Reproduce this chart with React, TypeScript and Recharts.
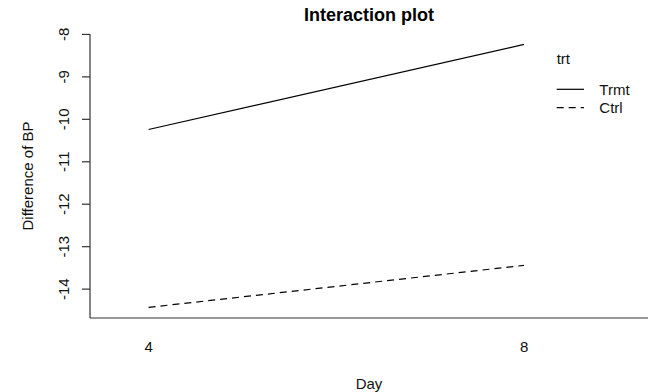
import { LineChart, Line, XAxis, YAxis, Label } from 'recharts';

const days = ['4', '8'];
const dayPos = [1, 2];
const trmt = [-10.24, -8.235];
const ctrl = [-14.43, -13.44];
const yTicks = [-14, -13, -12, -11, -10, -9, -8];
const groups = [
  { key: 'trmt', name: 'Trmt', dash: undefined as string | undefined },
  { key: 'ctrl', name: 'Ctrl', dash: '7 5' },
];

const FONT = '"Liberation Sans", Arial, Helvetica, sans-serif';
const AXIS = '#333';

const chartData = days.map((d, i) => ({ x: dayPos[i], day: d, trmt: trmt[i], ctrl: ctrl[i] }));

// y tick labels rotated like R's default (las = 0)
function YTick(props: any) {
  const { x, y, payload } = props;
  const bx = x - 11;
  return (
    <text
      x={bx}
      y={y}
      transform={`rotate(-90, ${bx}, ${y})`}
      textAnchor="middle"
      fontSize={15}
      fontFamily={FONT}
      fill="#111"
    >
      {payload.value}
    </text>
  );
}

function XTick(props: any) {
  const { x, y, payload } = props;
  const idx = dayPos.indexOf(payload.value);
  return (
    <text x={x} y={y + 26} textAnchor="middle" fontSize={15} fontFamily={FONT} fill="#111">
      {idx >= 0 ? days[idx] : ''}
    </text>
  );
}

function LegendBox() {
  return (
    <svg width={100} height={80} style={{ position: 'absolute', left: 550, top: 40 }}>
      <text x={6.7} y={24} fontSize={15} fontFamily={FONT} fill="#111">trt</text>
      {groups.map((g, i) => (
        <g key={g.key}>
          <line
            x1={6.7}
            x2={34}
            y1={49.3 + i * 18.4}
            y2={49.3 + i * 18.4}
            stroke="#000"
            strokeWidth={1.2}
            strokeDasharray={g.dash}
          />
          <text x={49.3} y={55 + i * 18.4} fontSize={15} fontFamily={FONT} fill="#111">
            {g.name}
          </text>
        </g>
      ))}
    </svg>
  );
}

export default function App() {
  return (
    <div style={{ position: 'absolute', left: 0, top: 0, width: 648, height: 392, background: '#fff', overflow: 'hidden' }}>
      <LineChart width={648} height={392} data={chartData} margin={{ top: 34, right: 0, bottom: 0, left: 0 }}>
        <XAxis
          xAxisId="top"
          orientation="top"
          dataKey="x"
          type="number"
          domain={[0.844, 2.33]}
          height={0}
          tick={false}
          tickLine={false}
          axisLine={{ stroke: AXIS, strokeWidth: 1.2 }}
        />
        <XAxis
          dataKey="x"
          type="number"
          domain={[0.844, 2.33]}
          ticks={dayPos}
          height={74}
          tickLine={false}
          tick={<XTick />}
          axisLine={{ stroke: AXIS, strokeWidth: 1.2 }}
        >
          <Label
            content={(p: any) => (
              <text
                x={p.viewBox.x + p.viewBox.width / 2}
                y={p.viewBox.y + 71}
                textAnchor="middle"
                fontSize={15}
                fontFamily={FONT}
                fill="#111"
              >
                Day
              </text>
            )}
          />
        </XAxis>
        <YAxis
          type="number"
          domain={[-14.68, -7.99]}
          ticks={yTicks}
          width={90}
          tickSize={8}
          tick={<YTick />}
          tickLine={{ stroke: AXIS, strokeWidth: 1.2 }}
          axisLine={{ stroke: AXIS, strokeWidth: 1.2 }}
        >
          <Label
            content={(p: any) => {
              const cx = p.viewBox.x + 33;
              const cy = p.viewBox.y + p.viewBox.height / 2;
              return (
                <text
                  x={cx}
                  y={cy}
                  transform={`rotate(-90, ${cx}, ${cy})`}
                  textAnchor="middle"
                  fontSize={15}
                  fontFamily={FONT}
                  fill="#111"
                >
                  Difference of BP
                </text>
              );
            }}
          />
        </YAxis>
        {groups.map((g) => (
          <Line
            key={g.key}
            dataKey={g.key}
            name={g.name}
            stroke="#000"
            strokeWidth={1.2}
            strokeDasharray={g.dash}
            dot={false}
            activeDot={false}
            isAnimationActive={false}
          />
        ))}
      </LineChart>
      <div
        style={{
          position: 'absolute',
          left: 90,
          width: 558,
          top: 4,
          textAlign: 'center',
          fontFamily: FONT,
          fontWeight: 'bold',
          fontSize: 18,
          lineHeight: '22px',
          color: '#000',
        }}
      >
        Interaction plot
      </div>
      <LegendBox />
    </div>
  );
}
